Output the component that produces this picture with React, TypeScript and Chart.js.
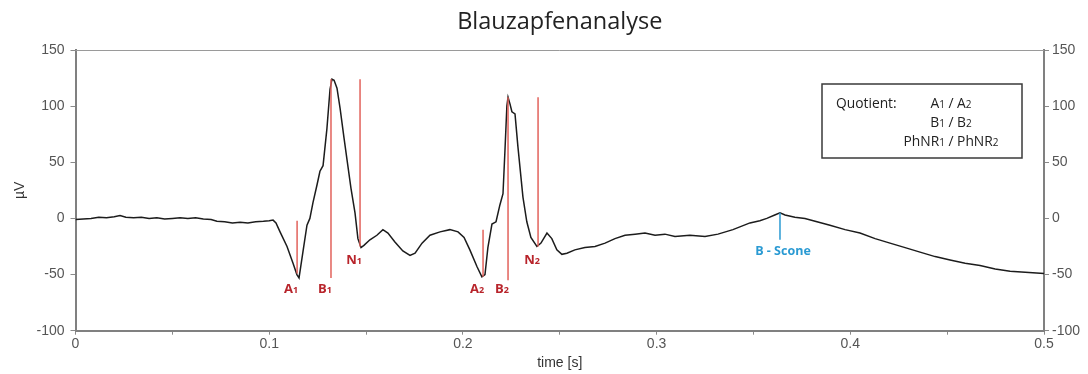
import { useEffect, useRef } from 'react';
import { Chart, registerables } from 'chart.js';

Chart.register(...registerables);

// Recorded trace: time in seconds, amplitude in microvolts
const timeS = [
  0.0, 0.004, 0.008, 0.012, 0.016, 0.02, 0.023, 0.026, 0.03, 0.034, 0.038, 0.042, 0.046, 0.05,
  0.054, 0.058, 0.062, 0.066, 0.07, 0.073, 0.077, 0.081, 0.085, 0.089, 0.093, 0.097, 0.1, 0.102,
  0.1035, 0.1056, 0.1092, 0.1123, 0.1143, 0.1154, 0.1174, 0.1195, 0.121, 0.1226, 0.1247, 0.1262,
  0.1278, 0.1298, 0.1314, 0.1324, 0.1335, 0.135, 0.1366, 0.1386, 0.1402, 0.1422, 0.1443, 0.1458,
  0.1474, 0.1489, 0.152, 0.1556, 0.1587, 0.1613, 0.1649, 0.169, 0.1727, 0.1753, 0.1789, 0.183,
  0.1882, 0.1933, 0.1975, 0.2006, 0.2036, 0.2073, 0.2098, 0.2114, 0.2129, 0.215, 0.2171, 0.2191,
  0.2207, 0.2217, 0.2227, 0.2233, 0.2243, 0.2253, 0.2269, 0.2284, 0.231, 0.233, 0.2351, 0.2382,
  0.2403, 0.2434, 0.2459, 0.2485, 0.2511, 0.2537, 0.2578, 0.263, 0.2682, 0.2734, 0.2785, 0.2837,
  0.2889, 0.294, 0.2992, 0.3043, 0.3095, 0.3172, 0.325, 0.3317, 0.3394, 0.3482, 0.3533, 0.3569,
  0.361, 0.3637, 0.3663, 0.3714, 0.3766, 0.3828, 0.3895, 0.3973, 0.405, 0.4128, 0.4205, 0.4283,
  0.436, 0.4438, 0.4515, 0.4593, 0.467, 0.4748, 0.4825, 0.4903, 0.5,
];
const amplitudeUV = [
  -1, -0.5, 0, 1, 0.5, 1.5, 2.5, 1, 0.5, 1, 0, 0.5, -0.5, 0,
  0.5, 0, 0.5, -0.5, -1, -2.5, -3, -4, -3.5, -4, -3, -2.5, -2, -1.5,
  -4, -12, -25, -40, -50, -53, -30, -6, 0, 14, 30, 42,
  47, 80, 115, 124, 123, 116, 98, 72, 52, 27, 5, -18,
  -26, -24, -19, -15, -10, -13, -21, -29, -33, -31, -22, -15,
  -12, -10, -12, -17, -28, -43, -52, -50, -26, -5, -3, 12,
  22, 60, 100, 108, 102, 95, 93, 64, 19, -3, -17, -25,
  -22, -13, -18, -28, -32, -31, -28, -26, -25, -22, -18, -15,
  -14, -13, -15, -14, -16, -15, -16, -14, -10, -4, -2, 0,
  3, 5, 3, 1, 0, -3, -6, -10, -13, -18, -22, -26,
  -30, -34, -37, -40, -42, -45, -47, -48, -49,
];

// Wave markers (a-wave, b-wave, PhNR) for both flashes
const markerNames = ['A_1', 'B_1', 'N_1', 'A_2', 'B_2', 'N_2'];
const markerTimes = [0.1144, 0.1319, 0.1469, 0.2104, 0.2233, 0.2388];
const markerTops = [-2, 124, 124, -10, 108, 108];
const markerBottoms = [-49, -53, -25, -52, -55, -25];

// S-cone b-wave marker
const sconeName = 'B - Scone';
const sconeTime = 0.3637;
const sconeTop = 5;
const sconeBottom = -19;

// Ratio box contents
const quotientTitle = 'Quotient:';
const quotientRows = ['A_1 / A_2', 'B_1 / B_2', 'PhNR_1 / PhNR_2'];

const xMajorLabels = ['0', '0.1', '0.2', '0.3', '0.4', '0.5'];

const FONT = '"Open Sans", "DejaVu Sans", sans-serif';
const TICK_FONT = '"Liberation Sans", Arial, sans-serif';

// Draws text where "_d" renders the digit d as a small subscript; y is the visual centre.
function drawRich(
  ctx: CanvasRenderingContext2D,
  text: string,
  x: number,
  y: number,
  size: number,
  weight: string,
  color: string,
  align: 'left' | 'center' | 'right',
) {
  const parts = text
    .split(/(_\d)/)
    .filter((p) => p.length > 0)
    .map((p) => (p.startsWith('_') ? { t: p.slice(1), sub: true } : { t: p, sub: false }));
  const subSize = Math.round(size * 0.7);
  const widths: number[] = [];
  let total = 0;
  for (const p of parts) {
    ctx.font = `${weight} ${p.sub ? subSize : size}px ${FONT}`;
    const w = ctx.measureText(p.t).width;
    widths.push(w);
    total += w;
  }
  let cx = align === 'center' ? x - total / 2 : align === 'right' ? x - total : x;
  const base = y + size * 0.36;
  ctx.save();
  ctx.textAlign = 'left';
  ctx.textBaseline = 'alphabetic';
  ctx.fillStyle = color;
  parts.forEach((p, i) => {
    ctx.font = `${weight} ${p.sub ? subSize : size}px ${FONT}`;
    ctx.fillText(p.t, cx, base + (p.sub ? 0.5 : 0));
    cx += widths[i];
  });
  ctx.restore();
}

const annotationsPlugin = {
  id: 'waveAnnotations',
  afterDatasetsDraw(chart: any) {
    const { ctx, chartArea, scales } = chart;
    const xs = scales.x;
    const ys = scales.y;

    // thin frame line along the top of the plot
    ctx.save();
    ctx.strokeStyle = '#9a9a9a';
    ctx.lineWidth = 1;
    ctx.beginPath();
    ctx.moveTo(chartArea.left, Math.round(chartArea.top) + 0.5);
    ctx.lineTo(chartArea.right, Math.round(chartArea.top) + 0.5);
    ctx.stroke();
    ctx.restore();

    // red wave markers
    markerNames.forEach((name, i) => {
      const px = xs.getPixelForValue(markerTimes[i]);
      const top = ys.getPixelForValue(markerTops[i]);
      const bottom = ys.getPixelForValue(markerBottoms[i]);
      ctx.save();
      ctx.strokeStyle = '#e2625b';
      ctx.lineWidth = 1.5;
      ctx.beginPath();
      ctx.moveTo(px, top);
      ctx.lineTo(px, bottom);
      ctx.stroke();
      ctx.restore();
      const isN = name.startsWith('N');
      const ly = ys.getPixelForValue(isN ? -36 : -62);
      drawRich(ctx, name, px - 6, ly, 13, 'bold', '#b8242b', 'center');
    });

    // S-cone marker
    const sx = xs.getPixelForValue(sconeTime);
    ctx.save();
    ctx.strokeStyle = '#2a9ad3';
    ctx.lineWidth = 1.5;
    ctx.beginPath();
    ctx.moveTo(sx, ys.getPixelForValue(sconeTop));
    ctx.lineTo(sx, ys.getPixelForValue(sconeBottom));
    ctx.stroke();
    ctx.restore();
    drawRich(ctx, sconeName, sx + 3, ys.getPixelForValue(sconeBottom) + 11, 12.5, 'bold', '#2a9ad3', 'center');

    // quotient box in the upper right
    const bx = chartArea.right - 222;
    const by = chartArea.top + 34;
    const bw = 200;
    const bh = 74;
    ctx.save();
    ctx.strokeStyle = '#3a3a3a';
    ctx.lineWidth = 1.5;
    ctx.strokeRect(bx, by, bw, bh);
    ctx.restore();
    drawRich(ctx, quotientTitle, bx + 14, by + 19, 13.8, 'normal', '#222', 'left');
    quotientRows.forEach((row, i) => {
      drawRich(ctx, row, bx + 129, by + 19 + i * 19, 13.8, 'normal', '#222', 'center');
    });
  },
};

export default function App() {
  const canvasRef = useRef<HTMLCanvasElement | null>(null);

  useEffect(() => {
    document.body.style.margin = '0';
    const canvas = canvasRef.current;
    if (!canvas) return;

    const points = timeS.map((t, i) => ({ x: t, y: amplitudeUV[i] }));

    const tickFont = { family: TICK_FONT, size: 14 };
    const chart = new Chart(canvas, {
      type: 'line',
      data: {
        datasets: [
          {
            label: 'ERG',
            data: points,
            borderColor: '#1c1c1c',
            borderWidth: 1.5,
            pointRadius: 0,
            tension: 0,
            fill: false,
          },
        ],
      },
      options: {
        responsive: false,
        animation: false,
        devicePixelRatio: 1,
        layout: { padding: { top: 0, left: 0, right: 0, bottom: 0 } },
        plugins: {
          legend: { display: false },
          tooltip: { enabled: false },
          title: {
            display: true,
            text: 'Blauzapfenanalyse',
            fullSize: false,
            color: '#222',
            font: { family: FONT, size: 23.5, weight: 'normal' },
            padding: { top: 8, bottom: 13.8 },
          },
        },
        scales: {
          x: {
            type: 'linear',
            min: 0,
            max: 0.5,
            afterFit: (scale: any) => {
              scale.height = 43.3;
            },
            ticks: {
              stepSize: 0.05,
              autoSkip: false,
              maxRotation: 0,
              padding: 1,
              color: '#555',
              font: tickFont,
              callback: (v: any) => {
                const idx = Math.round(Number(v) * 10);
                return Math.abs(Number(v) * 10 - idx) < 1e-6 ? xMajorLabels[idx] : '';
              },
            },
            grid: { drawOnChartArea: false, drawTicks: true, tickLength: 4, color: '#8a8a8a', lineWidth: 1 },
            border: { display: true, color: '#808080', width: 2 },
            title: {
              display: true,
              text: 'time [s]',
              color: '#333',
              font: { family: TICK_FONT, size: 14 },
              padding: { top: 0, bottom: 2 },
            },
          },
          y: {
            position: 'left',
            min: -100,
            max: 150,
            afterFit: (scale: any) => {
              scale.width = 75.5;
            },
            ticks: { stepSize: 50, padding: 6, color: '#555', font: tickFont },
            grid: { drawOnChartArea: false, drawTicks: true, tickLength: 5, color: '#8a8a8a', lineWidth: 1 },
            border: { display: true, color: '#808080', width: 2 },
            title: {
              display: true,
              text: 'µV',
              color: '#333',
              font: { family: TICK_FONT, size: 14 },
              padding: { top: 11.6, bottom: 0 },
            },
          },
          y2: {
            position: 'right',
            min: -100,
            max: 150,
            afterFit: (scale: any) => {
              scale.width = 44;
            },
            ticks: { stepSize: 50, padding: 3, color: '#555', font: tickFont },
            grid: { drawOnChartArea: false, drawTicks: true, tickLength: 5, color: '#8a8a8a', lineWidth: 1 },
            border: { display: true, color: '#808080', width: 2 },
          },
        },
      },
      plugins: [annotationsPlugin],
    } as any);

    return () => {
      chart.destroy();
    };
  }, []);

  return (
    <div style={{ width: 1088, height: 374, background: '#fff' }}>
      <canvas ref={canvasRef} width={1088} height={374} style={{ display: 'block' }} />
    </div>
  );
}
